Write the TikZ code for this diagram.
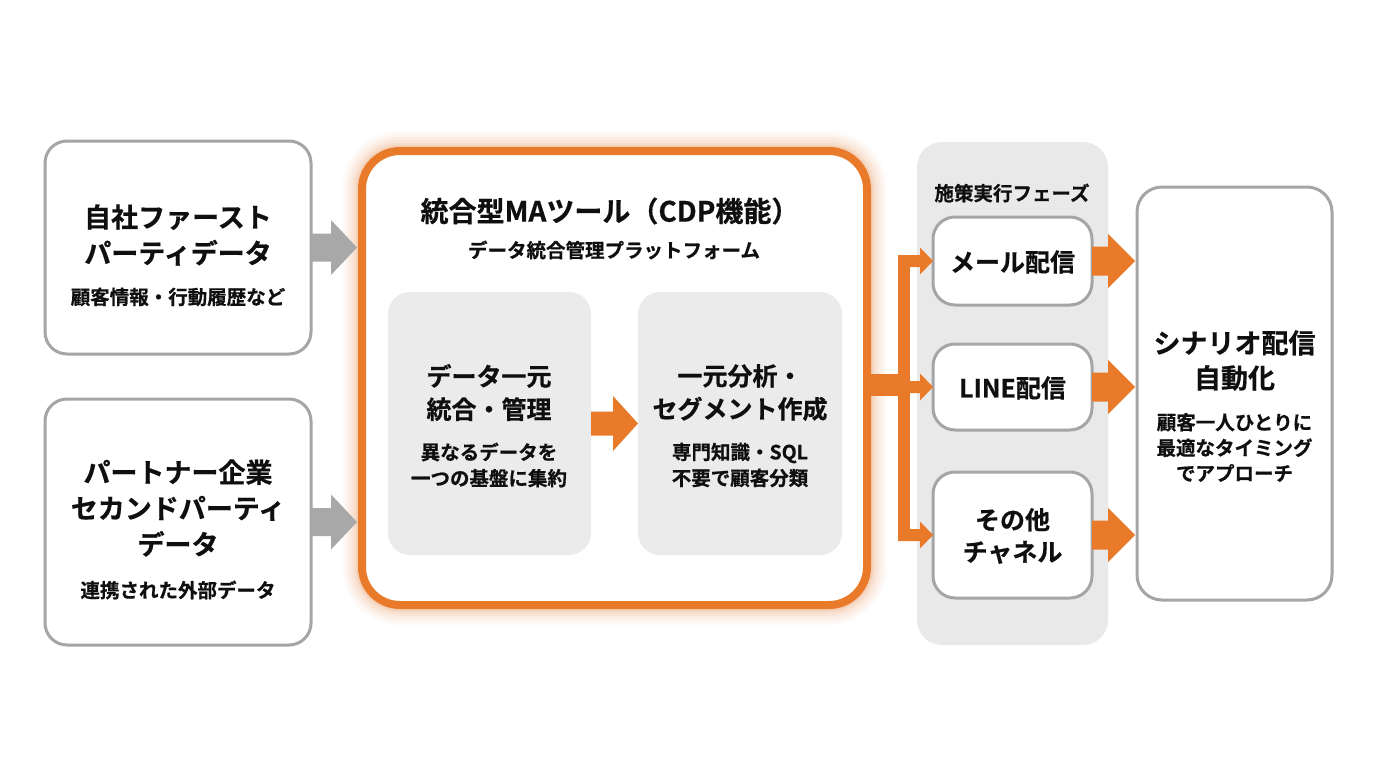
\documentclass[tikz,border=0pt]{standalone}
\usepackage{fontspec}
\setmainfont{Noto Sans CJK JP}[BoldFont={Noto Sans CJK JP Bold},BoldFeatures={FakeBold=0.6}]
\usetikzlibrary{calc}
\definecolor{orC}{RGB}{233,122,42}
\definecolor{grayA}{RGB}{168,168,168}
\definecolor{bordC}{RGB}{165,165,165}
\definecolor{panelC}{RGB}{235,235,235}
\definecolor{phaseC}{RGB}{233,233,233}
\definecolor{txtC}{RGB}{15,15,15}
\newcommand{\blockarrow}[6]{%
  \fill[#6] let \p1=#1, \p2=#2 in
    (\x1,\y1+#3) -- (\x2-#5,\y1+#3) -- (\x2-#5,\y1+#4) -- (\x2,\y1)
    -- (\x2-#5,\y1-#4) -- (\x2-#5,\y1-#3) -- (\x1,\y1-#3) -- cycle;}
\tikzset{
  wbox/.style={draw=bordC, line width=3pt, fill=white, rounded corners=22pt,
    inner sep=0, outer sep=0},
  gpanel/.style={fill=panelC, rounded corners=22pt, inner sep=0, outer sep=0},
  txt/.style={text=txtC, align=center, inner sep=0, font=\bfseries},
  big/.style={txt, font=\bfseries\fontsize{27}{36}\selectfont},
  mid/.style={txt, font=\bfseries\fontsize{25}{33}\selectfont},
  small/.style={txt, font=\bfseries\fontsize{19.5}{26}\selectfont},
}
\begin{document}
\begin{tikzpicture}[x=1pt,y=-1pt]
\useasboundingbox[fill=white] (0,0) rectangle (1376,768);

% glow of the main box
\foreach \w/\o in {40/0.03, 34/0.04, 28/0.05, 22/0.06, 17/0.08, 12/0.12}
  \draw[orC, line width=\w pt, opacity=\o, rounded corners=38pt] (362,151) rectangle (867,605);

% main boxes
\node[wbox, minimum width=266pt, minimum height=213pt] (b1) at (178,247.5) {};
\node[wbox, minimum width=266pt, minimum height=246pt] (b2) at (178,522) {};
\node[draw=orC, line width=8pt, fill=white, rounded corners=38pt, inner sep=0, outer sep=0,
  minimum width=505pt, minimum height=454pt] (cdp) at (614.5,378) {};
\node[gpanel, minimum width=203pt, minimum height=263pt] (g1) at (489.5,423.5) {};
\node[gpanel, minimum width=204pt, minimum height=263pt] (g2) at (740,423.5) {};
\node[fill=phaseC, rounded corners=25pt, inner sep=0, outer sep=0,
  minimum width=191pt, minimum height=503pt] (phase) at (1012.5,393.5) {};
\node[wbox, minimum width=159pt, minimum height=88pt] (mail) at (1012.5,261) {};
\node[wbox, minimum width=159pt, minimum height=86pt] (line) at (1012.5,387) {};
\node[wbox, minimum width=159pt, minimum height=126pt] (oth) at (1012.5,535) {};
\node[wbox, rounded corners=25pt, minimum width=195pt, minimum height=413pt] (scen) at (1234.5,393.5) {};

% gray input arrows
\blockarrow{(b1.east)}{($(b1.east -| cdp.west)+(-5,0)$)}{14pt}{27.5pt}{26pt}{grayA}
\blockarrow{(b2.east)}{($(b2.east -| cdp.west)+(-5,0)$)}{14pt}{27.5pt}{26pt}{grayA}

% inner arrow
\blockarrow{(g1.east)}{(g1.east -| g2.west)}{12pt}{27.5pt}{25pt}{orC}

% branch
\coordinate (jn) at (904,385);
\fill[orC] ($(cdp.east |- jn)+(0,-11)$) rectangle ($(jn)+(6,11)$);
\draw[orC, line width=12pt] ($(jn |- mail.west)+(0,-6)$) -- ($(jn |- oth.west)+(0,6)$);
\blockarrow{($(jn |- mail.west)+(-6,0)$)}{(mail.west)}{6pt}{13.5pt}{13pt}{orC}
\blockarrow{($(jn |- line.west)+(-6,0)$)}{(line.west)}{6pt}{13.5pt}{13pt}{orC}
\blockarrow{($(jn |- oth.west)+(-6,0)$)}{(oth.west)}{6pt}{13.5pt}{13pt}{orC}

% output arrows
\blockarrow{(mail.east)}{($(mail.east -| scen.west)+(-2,0)$)}{14.5pt}{27pt}{27pt}{orC}
\blockarrow{(line.east)}{($(line.east -| scen.west)+(-2,0)$)}{14.5pt}{27pt}{27pt}{orC}
\blockarrow{(oth.east)}{($(oth.east -| scen.west)+(-2,0)$)}{14.5pt}{27pt}{27pt}{orC}

% texts
\node[big] (t1) at (178,235) {自社ファースト\\パーティデータ};
\node[small] (s1) at (178,297) {顧客情報・行動履歴など};
\node[big] (t2) at (178,508) {パートナー企業\\セカンドパーティ\\データ};
\node[small] (s2) at (178,590) {連携された外部データ};

\node[txt, font=\bfseries\fontsize{28}{34}\selectfont] (tc) at (610,211) {統合型MAツール（CDP機能）};
\node[small] (sc) at (614,250) {データ統合管理プラットフォーム};

\node[mid] (tg1) at (489,392.5) {データ一元\\統合・管理};
\node[small] (sg1) at (489,465) {異なるデータを\\一つの基盤に集約};
\node[mid] (tg2) at (740,392.5) {一元分析・\\セグメント作成};
\node[small] (sg2) at (740,465) {専門知識・SQL\\不要で顧客分類};

\node[txt, font=\bfseries\fontsize{19.5}{24}\selectfont] (tp) at (1012,193) {施策実行フェーズ};
\node[mid] (tm) at (1012.5,262) {メール配信};
\node[mid] (tl) at (1012.5,388) {LINE配信};
\node[mid, font=\bfseries\fontsize{25}{32}\selectfont] (to) at (1012.5,536) {その他\\チャネル};

\node[big, font=\bfseries\fontsize{27}{35}\selectfont] (ts) at (1234.5,360.5) {シナリオ配信\\自動化};
\node[small, font=\bfseries\fontsize{19.5}{25.5}\selectfont] (ss) at (1234.5,447.5) {顧客一人ひとりに\\最適なタイミング\\でアプローチ};
\end{tikzpicture}
\end{document}
